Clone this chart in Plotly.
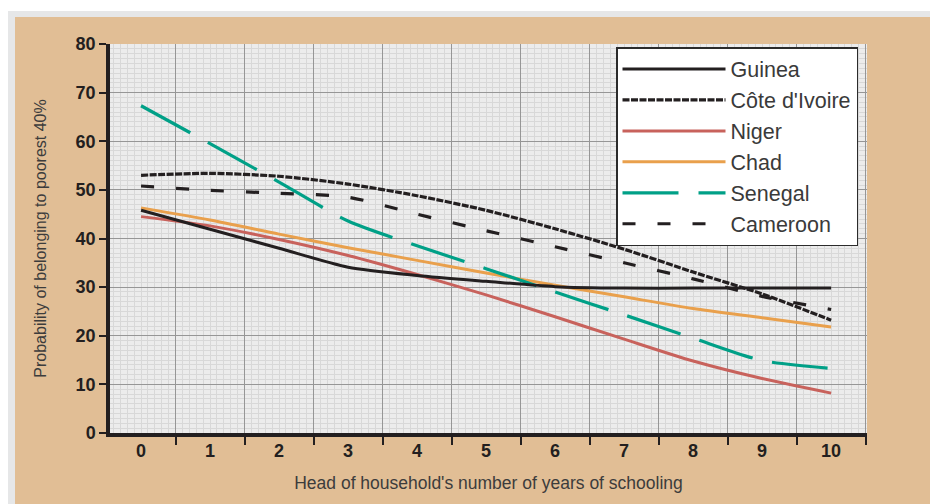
import plotly.graph_objects as go

# ---- data ----
years = [0, 1, 2, 3, 4, 5, 6, 7, 8, 9, 10]
year_labels = ["0", "1", "2", "3", "4", "5", "6", "7", "8", "9", "10"]

guinea = [45.8, 41.9, 38.0, 34.1, 32.4, 31.2, 30.1, 29.8, 29.8, 29.8, 29.8]
cote_divoire = [53.0, 53.4, 52.8, 51.2, 48.8, 45.8, 42.0, 37.8, 33.1, 28.6, 23.2]
niger = [44.5, 42.6, 39.8, 36.5, 32.6, 28.4, 23.9, 19.3, 14.8, 11.2, 8.2]
chad = [46.3, 43.8, 40.9, 38.1, 35.5, 32.9, 30.4, 28.0, 25.6, 23.7, 21.8]
senegal = [67.3, 59.5, 51.6, 43.6, 38.5, 33.8, 29.0, 24.3, 19.5, 14.9, 13.3]
cameroon = [50.8, 49.9, 49.3, 48.5, 45.0, 41.6, 38.3, 35.0, 31.7, 28.1, 25.4]

y_ticks = [0, 10, 20, 30, 40, 50, 60, 70, 80]
x_tick_bounds = [0.5, 1.5, 2.5, 3.5, 4.5, 5.5, 6.5, 7.5, 8.5, 9.5, 10.5]

x_title = "Head of household's number of years of schooling"
y_title = "Probability of belonging to poorest 40%"

# ---- styles ----
OFF = 8                      # page body margin offset
W, H = 938 - OFF, 504 - OFF
ML, MR, MT, MB = 110 - OFF, 71, 44 - OFF, 71
TAN = "#e1be95"
INK = "#231f20"
X_RANGE = [-0.45, 10.52]
FONT = "Liberation Sans, Arial, sans-serif"

series = [
    ("Guinea", guinea, dict(color=INK, width=3, dash="solid"), "x2"),
    ("Côte d'Ivoire", cote_divoire, dict(color=INK, width=3.2, dash="7px,1.5px"), "x"),
    ("Niger", niger, dict(color="#c8625c", width=3, dash="solid"), "x"),
    ("Chad", chad, dict(color="#e9a04c", width=3, dash="solid"), "x"),
    ("Senegal", senegal, dict(color="#00a087", width=3.2, dash="56px,20px"), "x"),
    ("Cameroon", cameroon, dict(color=INK, width=3.2, dash="13px,22px"), "x"),
]

fig = go.Figure()
for name, vals, ln, xa in series:
    fig.add_trace(go.Scatter(
        x=years, y=vals, name=name, mode="lines",
        line=dict(shape="spline", smoothing=0.7, **ln),
        legendgroup=name, xaxis=xa, yaxis="y",
    ))

pw = W - ML - MR
ph = H - MT - MB


def px_x(p):  # reference pixel -> paper x
    return (p - OFF - ML) / pw


def px_y(p):  # reference pixel -> paper y
    return (H - MB - (p - OFF)) / ph


shapes = [
    dict(type="rect", xref="paper", yref="paper", x0=px_x(0), x1=px_x(W + 20),
         y0=px_y(11), y1=px_y(-5), fillcolor="white", line_width=0, layer="below"),
    dict(type="rect", xref="paper", yref="paper", x0=px_x(8), x1=px_x(W + 20),
         y0=px_y(17), y1=px_y(11), fillcolor="#e6e7e8", line_width=0, layer="below"),
    dict(type="rect", xref="paper", yref="paper", x0=px_x(0), x1=px_x(15),
         y0=px_y(H + 20), y1=px_y(11), fillcolor="#e6e7e8", line_width=0, layer="below"),
]

tick_font = dict(family=FONT, size=18, color=INK, weight=700)

fig.update_layout(
    width=W, height=H,
    margin=dict(l=ML, r=MR, t=MT, b=MB, autoexpand=False),
    paper_bgcolor=TAN,
    plot_bgcolor="#ececec",
    shapes=shapes,
    showlegend=True,
    legend=dict(
        x=px_x(616), y=px_y(47), xanchor="left", yanchor="top",
        bgcolor="white", bordercolor="#2b2b2b", borderwidth=1.5,
        font=dict(family=FONT, size=21.5, color="#3a3a3a"),
        traceorder="grouped", tracegroupgap=0, itemwidth=103,
    ),
    xaxis=dict(
        range=X_RANGE,
        tickmode="array", tickvals=x_tick_bounds, showticklabels=False,
        ticks="outside", ticklen=8, tickwidth=1.5, tickcolor=INK,
        showgrid=True, gridcolor="#969696", gridwidth=1.4,
        minor=dict(dtick=0.1, showgrid=True, gridcolor="#d8d8d8", gridwidth=1, ticks=""),
        showline=True, linewidth=3.5, linecolor=INK,
        zeroline=False,
        title=dict(text=x_title, standoff=34,
                   font=dict(family=FONT, size=17.5, color="#3c3c3c")),
    ),
    xaxis2=dict(
        overlaying="x", anchor="y", side="bottom",
        range=X_RANGE,
        tickmode="array", tickvals=years, ticktext=year_labels,
        ticks="outside", ticklen=1, tickcolor="rgba(0,0,0,0)",
        showgrid=False, showline=False, zeroline=False,
        tickfont=tick_font,
    ),
    yaxis=dict(
        range=[0, 80],
        tickmode="array", tickvals=y_ticks,
        ticks="outside", ticklen=7, tickwidth=1.5, tickcolor=INK,
        showgrid=True, gridcolor="#969696", gridwidth=1.4,
        minor=dict(dtick=1, showgrid=True, gridcolor="#d8d8d8", gridwidth=1, ticks=""),
        showline=True, linewidth=3.5, linecolor=INK,
        zeroline=False,
        tickfont=tick_font,
        title=dict(text=y_title, standoff=26,
                   font=dict(family=FONT, size=16, color="#3c3c3c")),
    ),
)

fig.write_html("out.html")
